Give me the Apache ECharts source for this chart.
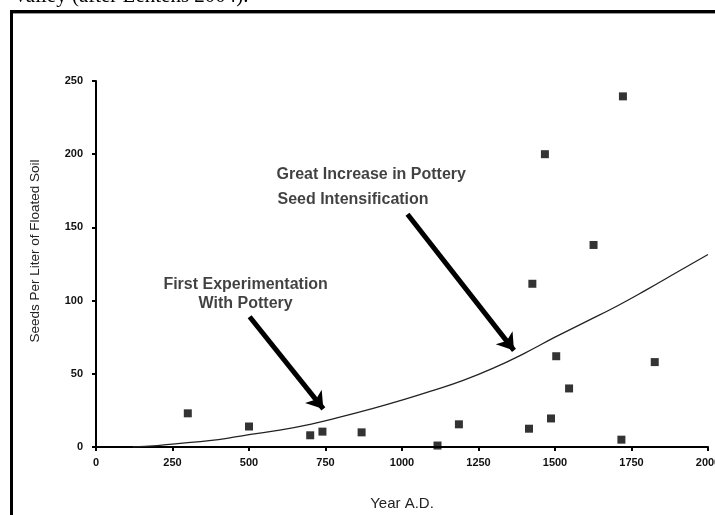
<!DOCTYPE html>
<html>
<head>
<meta charset="utf-8">
<title>Seeds per liter of floated soil</title>
<script src="https://cdn.jsdelivr.net/npm/echarts@6/dist/echarts.min.js"></script>
<style>
  html, body { margin: 0; padding: 0; background: #fff; }
  #chart { width: 715px; height: 515px; }
</style>
</head>
<body>
<div id="chart"></div>
<script>
// flotation samples: year A.D. / seeds per liter
const sampleYears = [300, 500, 700, 740, 868, 1116, 1186, 1415, 1426, 1467, 1487, 1504, 1546, 1626, 1717, 1722, 1826];
const sampleSeeds = [23, 14, 8, 10.5, 10, 1, 15.5, 12.5, 111.5, 200, 19.5, 62, 40, 138, 5, 239.5, 58];

// trend curve
const curveYears = [120, 200, 250, 300, 400, 500, 600, 700, 800, 900, 1000, 1100, 1200, 1300, 1400, 1500, 1600, 1700, 1800, 1900, 2000];
const curveSeeds = [0, 1, 2, 3, 5, 8.5, 11.5, 15.5, 20.5, 26, 32, 38.5, 45.5, 54, 64, 75, 85.5, 96, 107.5, 119.5, 131.5];

// annotations (data coords)
const noteLines = ["First Experimentation", "With Pottery", "Great Increase in Pottery", "Seed Intensification"];
const noteYears = [489, 489, 590, 593];
const noteSeeds = [111, 98, 186, 169];
const arrowFrom = [[502, 89], [1018, 159]];
const arrowTo = [[743, 26], [1366, 66]];

const caption = "Valley (after Lentens 2004).";

const font = '"Liberation Sans", Arial, sans-serif';

const chart = echarts.init(document.getElementById("chart"));

chart.setOption({
  animation: false,
  backgroundColor: "#fff",
  textStyle: { fontFamily: font },
  graphic: [
    // frame of the figure box (top + left visible)
    { type: "line", silent: true, shape: { x1: 10, y1: 11.5, x2: 715, y2: 11.5 }, style: { stroke: "#000", lineWidth: 3 } },
    { type: "line", silent: true, shape: { x1: 11.5, y1: 10, x2: 11.5, y2: 515 }, style: { stroke: "#000", lineWidth: 3 } },
    { type: "line", silent: true, shape: { x1: 13, y1: 13.5, x2: 715, y2: 13.5 }, style: { stroke: "#999", lineWidth: 1 } },
    {
      type: "text", silent: true, x: 13, y: -14,
      style: { text: caption, font: '21px "Liberation Serif", "Times New Roman", serif', fill: "#000" }
    }
  ],
  grid: { left: 96, right: 7, top: 81, bottom: 68, outerBoundsMode: "none" },
  xAxis: {
    type: "value",
    min: 0,
    max: 2000,
    interval: 250,
    name: "Year A.D.",
    nameLocation: "middle",
    nameGap: 49,
    nameTextStyle: { fontSize: 15, color: "#222", fontFamily: font },
    axisLine: { lineStyle: { color: "#000", width: 2 } },
    axisTick: { length: 4, lineStyle: { color: "#000", width: 2 } },
    axisLabel: { margin: 10, fontSize: 11, fontWeight: "bold", color: "#111", fontFamily: font, formatter: (v) => String(v) },
    splitLine: { show: false }
  },
  yAxis: {
    type: "value",
    min: 0,
    max: 250,
    interval: 50,
    name: "Seeds Per Liter of Floated Soil",
    nameLocation: "middle",
    nameRotate: 90,
    nameGap: 54,
    nameTextStyle: { fontSize: 13.5, color: "#222", fontFamily: font, padding: [0, 0, 0, 26] },
    axisLine: { show: true, lineStyle: { color: "#000", width: 2 } },
    axisTick: { show: true, length: 4, lineStyle: { color: "#000", width: 2 } },
    axisLabel: { margin: 13, fontSize: 11, fontWeight: "bold", color: "#111", fontFamily: font },
    splitLine: { show: false }
  },
  series: [
    {
      name: "trend",
      type: "line",
      smooth: true,
      showSymbol: false,
      silent: true,
      data: curveYears.map((y, i) => [y, curveSeeds[i]]),
      lineStyle: { color: "#222", width: 1.3 }
    },
    {
      name: "samples",
      type: "scatter",
      symbol: "rect",
      symbolSize: 8,
      data: sampleYears.map((y, i) => [y, sampleSeeds[i]]),
      itemStyle: { color: "#000" }
    },
    {
      name: "arrows",
      type: "lines",
      coordinateSystem: "cartesian2d",
      silent: true,
      symbol: ["none", "arrow"],
      symbolSize: [14, 16],
      lineStyle: { color: "#000", width: 5, opacity: 1 },
      data: arrowFrom.map((p, i) => ({ coords: [p, arrowTo[i]] }))
    },
    {
      name: "notes",
      type: "scatter",
      symbolSize: 0,
      silent: true,
      data: noteLines.map((t, i) => ({
        value: [noteYears[i], noteSeeds[i], t],
        label: { position: i < 2 ? "inside" : "right", distance: 0 }
      })),
      label: {
        show: true,
        formatter: (p) => p.value[2],
        fontSize: 16,
        fontWeight: "bold",
        color: "#111",
        fontFamily: font
      }
    }
  ]
});
</script>
</body>
</html>
